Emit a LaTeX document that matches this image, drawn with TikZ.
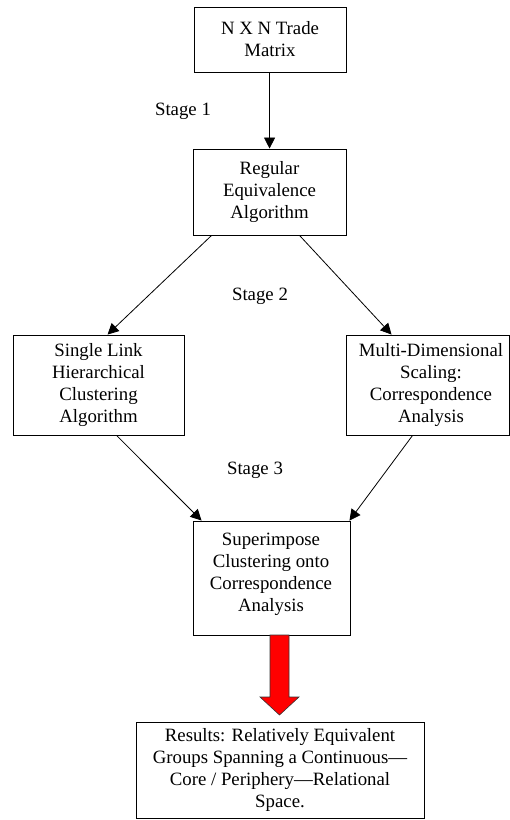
\documentclass[tikz,border=0pt]{standalone}
\usepackage{fontspec}
\setmainfont{Liberation Serif}
\usetikzlibrary{arrows.meta,calc}
\begin{document}
\begin{tikzpicture}[x=1pt,y=-1pt,
  stagebox/.style={draw=black,line width=0.9pt,fill=white,inner sep=0pt,align=center,
    font=\fontsize{18.8}{22}\selectfont},
  stagelbl/.style={inner sep=0pt,font=\fontsize{18.8}{22}\selectfont},
  arr/.style={line width=0.8pt,-{Triangle[length=11pt,width=11pt]}},
  bigarrow/.style={fill=red,draw=black!80,line width=0.6pt}]
\useasboundingbox (0,0) rectangle (510,820);
\node[stagebox,minimum width=152pt,minimum height=65pt] (b1) at (270,39.5) {N X N Trade\\Matrix};
\node[stagebox,minimum width=153pt,minimum height=86pt] (b2) at (269.5,192) {Regular\\Equivalence\\Algorithm};
\node[stagebox,minimum width=171pt,minimum height=100pt] (b3) at (98.5,385) {Single Link\\Hierarchical\\Clustering\\Algorithm};
\node[stagebox,minimum width=163pt,minimum height=100pt] (b4) at (427.5,385) {};
\node[align=center,inner sep=0pt,font=\fontsize{18.8}{22}\selectfont] (b4t) at (431,385) {Multi-Dimensional\\Scaling:\\Correspondence\\Analysis};
\node[stagebox,minimum width=157pt,minimum height=114pt] (b5) at (271.5,578) {};
\node[align=center,inner sep=0pt,font=\fontsize{18.8}{22}\selectfont] (b5t) at (271,574) {Superimpose\\Clustering onto\\Correspondence\\Analysis};
\node[stagebox,minimum width=288pt,minimum height=96pt] (b6) at (280,770) {Results: Relatively Equivalent\\Groups Spanning a Continuous---\\Core / Periphery---Relational\\Space.};
\node[stagelbl] (s1) at (183,111) {Stage 1};
\node[stagelbl] (s2) at (260,296) {Stage 2};
\node[stagelbl] (s3) at (255,470) {Stage 3};
\draw[arr] ($(b1.south west)+(76,0)$) -- ($(b2.north west)+(77,0)$);
\draw[arr] ($(b2.south west)+(19,0)$) -- ($(b3.north west)+(95,0)$);
\draw[arr] ($(b2.south west)+(107,0)$) -- ($(b4.north west)+(46,0)$);
\draw[arr] ($(b3.south west)+(104,0)$) -- ($(b5.north west)+(9,0)$);
\draw[arr] ($(b4.south west)+(67,0)$) -- ($(b5.north east)+(-1,0)$);
\draw[bigarrow] (270,635) -- (289,635) -- (289,697) -- (299,697) -- (279.5,715) -- (260,697) -- (270,697) -- cycle;
\end{tikzpicture}
\end{document}
